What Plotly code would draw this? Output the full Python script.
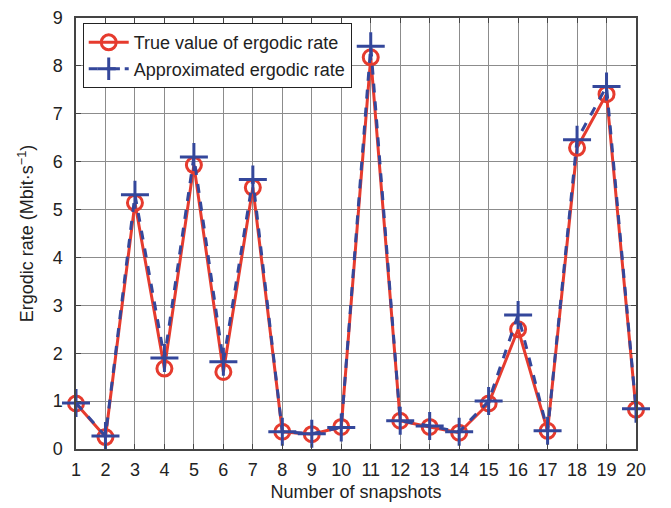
import plotly.graph_objects as go

snapshots = list(range(1, 21))
true_rate = [0.95, 0.25, 5.14, 1.68, 5.93, 1.61, 5.46, 0.36, 0.31, 0.46,
             8.18, 0.59, 0.46, 0.34, 0.95, 2.50, 0.38, 6.29, 7.41, 0.82]
approx_rate = [0.96, 0.27, 5.31, 1.90, 6.10, 1.82, 5.63, 0.36, 0.32, 0.45,
               8.41, 0.59, 0.48, 0.36, 1.00, 2.80, 0.38, 6.46, 7.57, 0.84]

RED = "#e63b2e"
BLUE = "#34479b"
FONT = "Liberation Sans, Arial, sans-serif"
TEXT = "#222222"

fig = go.Figure()
fig.add_trace(go.Scatter(
    x=snapshots, y=true_rate, mode="lines+markers",
    name="True value of ergodic rate", cliponaxis=False,
    line=dict(color=RED, width=3),
    marker=dict(symbol="circle-open", size=15, color=RED,
                line=dict(color=RED, width=3)),
))
fig.add_trace(go.Scatter(
    x=snapshots, y=approx_rate, mode="lines+markers",
    name="Approximated ergodic rate", cliponaxis=False,
    line=dict(color=BLUE, width=3, dash="dash"),
    marker=dict(symbol="cross-thin-open", size=20, color=BLUE,
                line=dict(color=BLUE, width=3)),
))

axis_common = dict(
    showgrid=True, gridcolor="#8c8c8c", gridwidth=1,
    showline=True, linecolor="#444444", linewidth=1.5, mirror="ticks",
    ticks="inside", ticklen=5, tickcolor="#444444",
    tickfont=dict(family=FONT, size=18, color=TEXT),
    zeroline=False,
)

fig.update_xaxes(
    range=[1, 20], tickmode="array", tickvals=snapshots,
    ticklabelstandoff=4,
    title=dict(text="Number of snapshots", font=dict(family=FONT, size=18, color=TEXT),
               standoff=6),
    **axis_common,
)
fig.update_yaxes(
    range=[0, 9], dtick=1,
    ticklabelstandoff=8,
    title=dict(text="Ergodic rate (Mbit·s<sup>−1</sup>)",
               font=dict(family=FONT, size=18, color=TEXT), standoff=14),
    **axis_common,
)

fig.update_layout(
    width=671, height=508,
    margin=dict(l=76, r=35, t=8, b=59),
    plot_bgcolor="white", paper_bgcolor="white",
    showlegend=True,
    legend=dict(
        x=0.012, y=0.988, xanchor="left", yanchor="top",
        bgcolor="white", bordercolor="#222222", borderwidth=1,
        font=dict(family=FONT, size=18, color=TEXT),
        tracegroupgap=0, itemwidth=40,
    ),
)

fig.write_html("out.html")
